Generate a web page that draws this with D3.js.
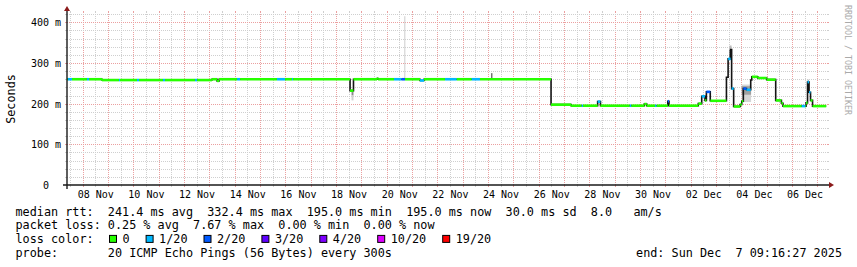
<!DOCTYPE html>
<html><head><meta charset="utf-8">
<script src="https://cdn.jsdelivr.net/npm/d3@7"></script>
<style>
html,body{margin:0;padding:0;background:#fff;}
svg{display:block;}
text{font-family:'DejaVu Sans Mono',monospace;white-space:pre;}
</style></head><body>
<svg id="c" width="857" height="267"></svg>
<script>
// ---------------- data ----------------
const startTime = "2025-11-07 09:16";
const endTime = "2025-12-07 09:16";
const dataEnd = "2025-12-07 08:30";
const xTickDays = ["2025-11-08","2025-11-10","2025-11-12","2025-11-14","2025-11-16","2025-11-18","2025-11-20",
  "2025-11-22","2025-11-24","2025-11-26","2025-11-28","2025-11-30","2025-12-02","2025-12-04","2025-12-06"];
const yTickValues = [0, 100, 200, 300, 400];
const yTickLabels = ["0  ", "100 m", "200 m", "300 m", "400 m"];

// median rtt (ms), step series: value holds from time until next time; loss = index into lossColors (null = hidden by smoke)
const medianTimes = [
 "2025-11-07 09:16","2025-11-07 10:10","2025-11-07 14:00","2025-11-08 04:10","2025-11-08 06:05","2025-11-08 18:25",
 "2025-11-09 10:30","2025-11-09 11:30","2025-11-10 03:35","2025-11-10 05:30","2025-11-11 04:10","2025-11-11 06:05",
 "2025-11-12 10:35","2025-11-12 12:30","2025-11-13 02:35","2025-11-13 07:25","2025-11-13 09:20","2025-11-14 02:25",
 "2025-11-14 05:15","2025-11-15 16:10","2025-11-15 23:50","2025-11-16 06:25","2025-11-16 07:25","2025-11-18 13:25",
 "2025-11-18 16:40","2025-11-19 15:00","2025-11-19 16:00","2025-11-20 07:05","2025-11-20 14:10","2025-11-20 17:30",
 "2025-11-21 07:40","2025-11-21 11:30","2025-11-22 07:25","2025-11-22 18:30","2025-11-23 08:40","2025-11-23 16:30",
 "2025-11-26 11:50","2025-11-27 06:50","2025-11-27 16:55","2025-11-27 18:05","2025-11-28 08:00","2025-11-28 10:40",
 "2025-11-29 14:25","2025-11-29 15:55","2025-11-30 04:10","2025-11-30 06:30","2025-11-30 14:20","2025-11-30 15:50",
 "2025-12-01 02:25","2025-12-01 03:35","2025-12-02 07:20","2025-12-02 10:35","2025-12-02 13:40","2025-12-02 15:00",
 "2025-12-02 18:40","2025-12-03 10:00","2025-12-03 11:35","2025-12-03 14:00","2025-12-03 14:55","2025-12-03 16:50",
 "2025-12-03 23:00","2025-12-04 00:30","2025-12-04 02:00","2025-12-04 05:00","2025-12-04 09:00","2025-12-04 10:00",
 "2025-12-04 15:40","2025-12-05 00:10","2025-12-05 08:40","2025-12-05 14:05","2025-12-05 15:35","2025-12-06 09:20",
 "2025-12-06 12:55","2025-12-06 13:25","2025-12-06 14:50","2025-12-06 16:15","2025-12-06 17:40","2025-12-06 19:35"];
const medianValues = [
 260,260,260,260,260,258,
 258,258,258,258,258,258,
 258,258,260,256,260,260,
 260,260,260,260,260,232,
 260,262,260,260,260,260,
 257,260,260,260,260,260,
 197.5,195,195,195,205,195,
 195,195,199,195,195,195,
 206,195,200,218,208,229,
 207,265,310,333,237,193,
 198,206,237,234,258,266,
 263,259,208,201,194,194,
 194,202,253,228,208,194];
const medianLoss = [
 0,1,0,1,0,0,
 1,0,1,0,1,0,
 1,0,0,0,0,1,
 0,1,0,1,0,0,
 0,0,0,1,2,0,
 1,0,1,0,1,0,
 0,0,1,0,1,0,
 1,0,0,0,1,0,
 2,0,0,1,0,2,
 0,null,1,null,1,0,
 0,0,2,1,null,0,
 0,0,0,0,0,1,
 0,0,1,1,0,0];

// smoke (spread of individual pings), ms
const smokeStart = ["2025-11-18 14:50","2025-11-18 14:50","2025-11-20 16:50","2025-11-24 03:15","2025-12-03 12:55","2025-12-03 12:55","2025-12-04 00:30","2025-12-04 00:30","2025-12-06 14:50"];
const smokeEnd   = ["2025-11-18 16:40","2025-11-18 16:40","2025-11-20 17:45","2025-11-24 04:10","2025-12-03 14:50","2025-12-03 14:50","2025-12-04 09:20","2025-12-04 09:20","2025-12-06 16:15"];
const smokeLo    = [220, 208, 260, 260, 310, 333, 204, 222, 253];
const smokeHi    = [232, 220, 415, 275, 333, 343, 247, 243, 259];
const smokeShade = ["#8a8a8a","#d0d0d0","#cccccc","#333333","#222222","#bbbbbb","#d6d6d6","#a0a0a0","#bbbbbb"];

const lossLabels = ["0","1/20","2/20","3/20","4/20","10/20","19/20"];
const lossColors = ["#26ff00","#00b8ff","#0059ff","#5e00ff","#7e00ff","#dd00ff","#ff0000"];

const legendRtt  = "median rtt:  241.4 ms avg  332.4 ms max  195.0 ms min  195.0 ms now  30.0 ms sd  8.0   am/s";
const legendLoss = "packet loss: 0.25 % avg  7.67 % max  0.00 % min  0.00 % now";
const legendColorTitle = "loss color:";
const legendProbe = "probe:       20 ICMP Echo Pings (56 Bytes) every 300s";
const legendEnd = "end: Sun Dec  7 09:16:27 2025";
const yTitle = "Seconds";
const watermark = "RRDTOOL / TOBI OETIKER";

// ---------------- layout ----------------
const X0 = 67, X1 = 827, Y0 = 185, Y1 = 13;
const parse = d3.timeParse("%Y-%m-%d %H:%M");
const parseDay = d3.timeParse("%Y-%m-%d");
const x = d3.scaleTime().domain([parse(startTime), parse(endTime)]).range([X0, X1]);
const y = d3.scaleLinear().domain([0, (Y0 - Y1) / 162.7 * 400]).range([Y0, Y1]);

const svg = d3.select("#c");
svg.append("rect").attr("width", 857).attr("height", 267).attr("fill", "#fff");

const gridMinor = "#cfcfcf", gridMajor = "#eba0a0";
const g = svg.append("g").attr("shape-rendering", "crispEdges");

// vertical grid every 12 h, major at midnight
d3.timeHour.every(12).range(parse(startTime), parse(endTime)).forEach(t => {
  const px = Math.round(x(t)) + 0.5;
  const col = t.getHours() === 0 ? gridMajor : gridMinor;
  g.append("line").attr("x1", px).attr("x2", px).attr("y1", Y0).attr("y2", Y1)
    .attr("stroke", col).attr("stroke-dasharray", "1,1");
  g.append("line").attr("x1", px).attr("x2", px).attr("y1", Y0).attr("y2", Y0 + 2).attr("stroke", col);
  g.append("line").attr("x1", px).attr("x2", px).attr("y1", Y1 - 2).attr("y2", Y1).attr("stroke", col);
});
// horizontal grid every 20 ms, major every 100 ms
d3.range(20, y.domain()[1], 20).forEach(v => {
  const py = Math.round(y(v)) + 0.5;
  const col = (v % 100 === 0) ? gridMajor : gridMinor;
  g.append("line").attr("x1", X0).attr("x2", X1).attr("y1", py).attr("y2", py)
    .attr("stroke", col).attr("stroke-dasharray", "1,1");
  g.append("line").attr("x1", X0 - 2).attr("x2", X0).attr("y1", py).attr("y2", py).attr("stroke", col);
  g.append("line").attr("x1", X1).attr("x2", X1 + 2).attr("y1", py).attr("y2", py).attr("stroke", col);
});

// smoke
const smoke = smokeStart.map((s, i) => ({s: parse(s), e: parse(smokeEnd[i]), lo: smokeLo[i], hi: smokeHi[i], c: smokeShade[i]}));
svg.append("g").selectAll("rect").data(smoke).join("rect")
  .attr("x", d => x(d.s)).attr("width", d => Math.max(1, x(d.e) - x(d.s)))
  .attr("y", d => y(d.hi)).attr("height", d => y(d.lo) - y(d.hi))
  .attr("fill", d => d.c);

// median steps
const med = medianTimes.map((t, i) => ({t: parse(t), v: medianValues[i], loss: medianLoss[i]}));
const medEnd = parse(dataEnd);
const stepPts = med.concat([{t: medEnd, v: med[med.length - 1].v}]);
svg.append("path").datum(stepPts)
  .attr("d", d3.line().x(d => x(d.t)).y(d => y(d.v)).curve(d3.curveStepAfter))
  .attr("fill", "none").attr("stroke", "#141414").attr("stroke-width", 1.6);

const segs = med.map((d, i) => ({t0: d.t, t1: i + 1 < med.length ? med[i + 1].t : medEnd, v: d.v, loss: d.loss}))
  .filter(d => d.loss !== null);
svg.append("g").selectAll("line").data(segs).join("line")
  .attr("x1", d => x(d.t0)).attr("x2", d => x(d.t1))
  .attr("y1", d => y(d.v)).attr("y2", d => y(d.v))
  .attr("stroke", d => lossColors[d.loss]).attr("stroke-width", 2.6);

// axes labels via d3 axes
const xAxis = d3.axisBottom(x).tickValues(xTickDays.map(d => d3.timeHour.offset(parseDay(d), 12)))
  .tickFormat(d3.timeFormat("%d %b")).tickSize(0);
const gx = svg.append("g").attr("transform", `translate(0,${Y0})`).call(xAxis);
gx.select(".domain").remove();
gx.selectAll("text").attr("y", 13.3).attr("dy", null).attr("font-family", "'DejaVu Sans Mono'").attr("font-size", 10).attr("fill", "#000");

const yAxis = d3.axisLeft(y).tickValues(yTickValues).tickFormat((d, i) => yTickLabels[i]).tickSize(0);
const gy = svg.append("g").attr("transform", `translate(${X0},0)`).call(yAxis);
gy.select(".domain").remove();
gy.selectAll("text").attr("x", -6).attr("dy", "0.36em").attr("font-family", "'DejaVu Sans Mono'").attr("font-size", 10).attr("fill", "#000");

// axis lines and arrows
svg.append("line").attr("x1", X0 - 4).attr("x2", X1 + 4).attr("y1", Y0).attr("y2", Y0).attr("stroke", "#1a1a1a").attr("stroke-width", 1.4);
svg.append("line").attr("x1", X0).attr("x2", X0).attr("y1", Y0 + 4).attr("y2", Y1 - 4).attr("stroke", "#1a1a1a").attr("stroke-width", 1.4);
svg.append("path").attr("d", `M${X1 + 2},${Y0 - 3}L${X1 + 2},${Y0 + 3}L${X1 + 7},${Y0}Z`).attr("fill", "#8b1a1a");
svg.append("path").attr("d", `M${X0 - 3},${Y1 - 2}L${X0 + 3},${Y1 - 2}L${X0},${Y1 - 7}Z`).attr("fill", "#8b1a1a");

// titles
svg.append("text").attr("transform", "translate(15,99) rotate(-90)").attr("text-anchor", "middle")
  .attr("font-size", 11.8).attr("fill", "#000").text(yTitle);
svg.append("text").attr("transform", "translate(844.5,5) rotate(90)").attr("text-anchor", "start")
  .attr("font-size", 8.3).attr("fill", "#aaaaaa").text(watermark);

// legend
const LX = 15.5, LF = 11.8, CW = 7.1;
const rows = [215.5, 229.2, 242.9, 256.6];
svg.append("text").attr("x", LX).attr("y", rows[0]).attr("font-size", LF).text(legendRtt);
svg.append("text").attr("x", LX).attr("y", rows[1]).attr("font-size", LF).text(legendLoss);
svg.append("text").attr("x", LX).attr("y", rows[2]).attr("font-size", LF).text(legendColorTitle);
let bx = 109;
lossLabels.forEach((lab, i) => {
  svg.append("rect").attr("x", bx + 0.5).attr("y", rows[2] - 7.5).attr("width", 7).attr("height", 7)
    .attr("fill", lossColors[i]).attr("stroke", "#000").attr("stroke-width", 1);
  svg.append("text").attr("x", bx + 13.5).attr("y", rows[2]).attr("font-size", LF).text(lab);
  bx = bx + 13.5 + lab.length * CW + 16;
});
svg.append("text").attr("x", LX).attr("y", rows[3]).attr("font-size", LF).text(legendProbe);
svg.append("text").attr("x", 842).attr("y", rows[3]).attr("text-anchor", "end").attr("font-size", LF).text(legendEnd);
</script>
</body></html>
